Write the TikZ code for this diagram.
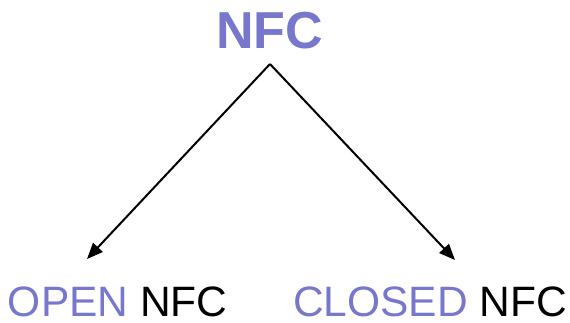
\documentclass[tikz,border=0pt]{standalone}
\usepackage{fontspec}
\setmainfont{Liberation Sans}
\usetikzlibrary{arrows.meta}
\definecolor{nfcblue}{HTML}{7777CC}
\tikzset{
  lbl/.style={inner sep=0pt, outer sep=0pt, text depth=0pt, anchor=base west, font=\fontsize{42.5}{42.5}\selectfont},
  conn/.style={line width=2pt, -{Triangle[length=16pt,width=13pt]}}
}
\begin{document}
\begin{tikzpicture}[x=1pt,y=-1pt]
\useasboundingbox (0,0) rectangle (570,322);
\node[inner sep=0pt, anchor=base, font=\fontsize{52}{52}\selectfont\bfseries, text=nfcblue] (nfc) at (269.5,48) {NFC};
\coordinate (apex) at (270,64);
\node[lbl] (open) at (8,316.5) {\textcolor{nfcblue}{OPEN} NFC};
\node[lbl] (closed) at (293,316.5) {\textcolor{nfcblue}{CLOSED} NFC};
\coordinate (lt) at (87,259);
\coordinate (rt) at (455,260);
\draw[conn] (apex) -- (lt);
\draw[conn] (apex) -- (rt);
\end{tikzpicture}
\end{document}
